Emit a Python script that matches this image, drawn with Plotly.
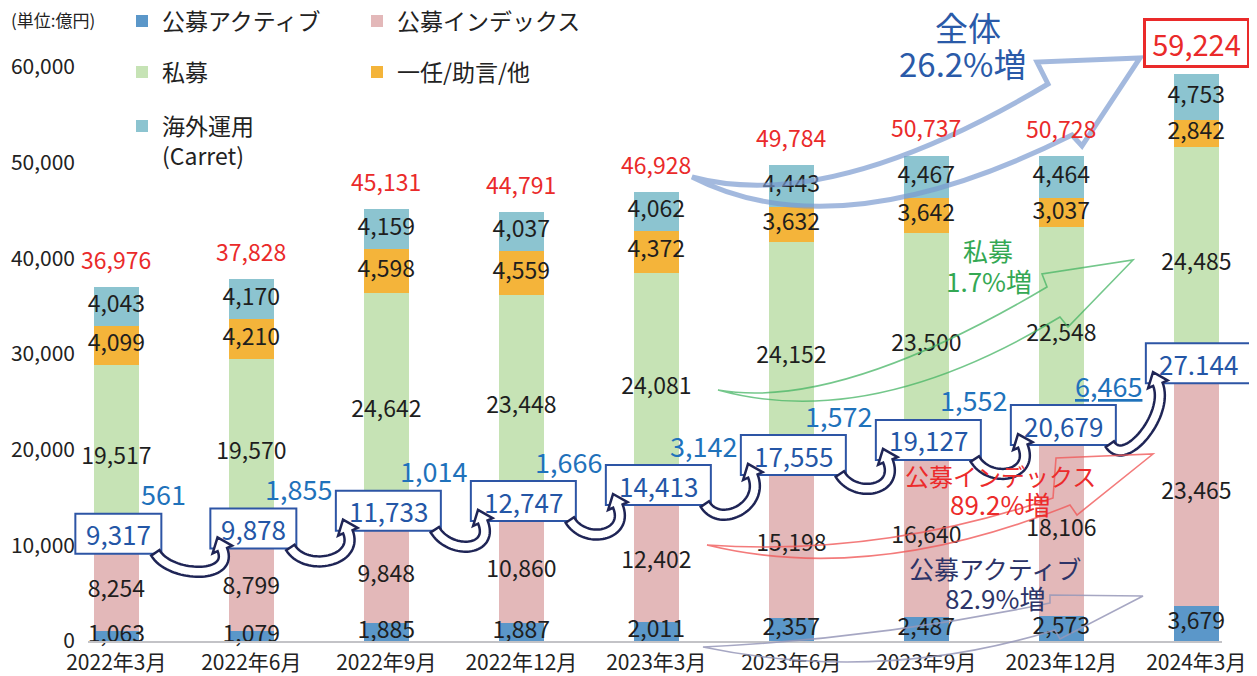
import plotly.graph_objects as go

# ---------------- data ----------------
categories = ["2022年3月", "2022年6月", "2022年9月", "2022年12月", "2023年3月",
              "2023年6月", "2023年9月", "2023年12月", "2024年3月"]
public_active = [1063, 1079, 1885, 1887, 2011, 2357, 2487, 2573, 3679]
public_index = [8254, 8799, 9848, 10860, 12402, 15198, 16640, 18106, 23465]
private_funds = [19517, 19570, 24642, 23448, 24081, 24152, 23500, 22548, 24485]
discretionary = [4099, 4210, 4598, 4559, 4372, 3632, 3642, 3037, 2842]
overseas = [4043, 4170, 4159, 4037, 4062, 4443, 4467, 4464, 4753]
totals = [36976, 37828, 45131, 44791, 46928, 49784, 50737, 50728, 59224]
public_totals = [9317, 9878, 11733, 12747, 14413, 17555, 19127, 20679, 27144]
public_total_labels = ["9,317", "9,878", "11,733", "12,747", "14,413",
                       "17,555", "19,127", "20,679", "27.144"]
increments = [561, 1855, 1014, 1666, 3142, 1572, 1552, 6465]
y_ticks = [0, 10000, 20000, 30000, 40000, 50000, 60000]

series_names = ["公募アクティブ", "公募インデックス", "私募", "一任/助言/他", "海外運用<br>(Carret)"]
series_values = [public_active, public_index, private_funds, discretionary, overseas]
series_colors = ["#5b97c9", "#e3b8b9", "#c6e3b5", "#f4b43a", "#8cc4d0"]
series_legends = ["legend", "legend", "legend2", "legend2", "legend3"]

# ---------------- geometry ----------------
OFF = 8                      # page body margin
W, H = 1257 - OFF, 676 - OFF
ML, MR, MT, MB = 80, 35, 0, 35
PW, PH = W - ML - MR, H - MT - MB
X_RANGE = [-0.21, 8.19]
Y_RANGE = [0, 66150]
FONT = "Noto Sans CJK JP"


# helpers in screen (window) pixels
def xpx(i):
    return OFF + ML + (i - X_RANGE[0]) / (X_RANGE[1] - X_RANGE[0]) * PW


def ypx(v):
    return OFF + MT + PH - (v - Y_RANGE[0]) / (Y_RANGE[1] - Y_RANGE[0]) * PH


def paper(px, py):
    return ((px - OFF - ML) / PW, (MT + PH - (py - OFF)) / PH)


def pstr(pt):
    x, y = paper(*pt)
    return f"{x:.5f},{y:.5f}"


fig = go.Figure()

for name, vals, col, lg in zip(series_names, series_values, series_colors, series_legends):
    fig.add_trace(go.Bar(x=categories, y=vals, name=name, marker_color=col,
                         marker_line_width=0, legend=lg, hoverinfo="skip"))

# segment labels at segment centres
lx, ly, lt = [], [], []
base = [0] * len(categories)
for vals in series_values:
    for i, v in enumerate(vals):
        lx.append(categories[i])
        ly.append(base[i] + v / 2)
        lt.append(f"{v:,}")
        base[i] += v
fig.add_trace(go.Scatter(x=lx, y=ly, text=lt, mode="text", showlegend=False,
                         textfont=dict(size=23, color="#1e1e1e", family=FONT),
                         cliponaxis=False, hoverinfo="skip"))

annotations = []
shapes = []

# totals (red)
for i, t in enumerate(totals):
    last = i == len(totals) - 1
    annotations.append(dict(
        x=categories[i], y=t, xref="x", yref="y", text=f"{t:,}", showarrow=False,
        yanchor="middle", yshift=31 if last else 28,
        font=dict(size=29 if last else 23, color="#ea2a2a", family=FONT),
        bordercolor="#ea2a2a" if last else None, borderwidth=3 if last else 0,
        borderpad=1 if last else 0, bgcolor="white" if last else None,
        width=99 if last else None))


# public totals boxes (frame drawn as shape so the hook heads can sit on top)
BOX_SHIFT_X, BOX_SHIFT_Y, BOX_H = 2, 18, 40


def box_width(v):
    return 105 if v >= 10000 else 86


def box_geom(i):
    cx = xpx(i) + BOX_SHIFT_X
    cy = ypx(public_totals[i]) - BOX_SHIFT_Y
    w = box_width(public_totals[i])
    return cx - w / 2, cy - BOX_H / 2, cx + w / 2, cy + BOX_H / 2


for i, v in enumerate(public_totals):
    x0, y0, x1, y1 = box_geom(i)
    p0, p1 = paper(x0, y1), paper(x1, y0)
    shapes.append(dict(type="rect", xref="paper", yref="paper",
                       x0=p0[0], y0=p0[1], x1=p1[0], y1=p1[1],
                       fillcolor="white", line=dict(color="#2d55a5", width=2),
                       layer="above"))
    annotations.append(dict(
        x=categories[i], y=v, xref="x", yref="y", text=public_total_labels[i],
        showarrow=False, xshift=BOX_SHIFT_X, yshift=BOX_SHIFT_Y, yanchor="middle",
        font=dict(size=26, color="#2456a6", family=FONT)))

# increments
for i, d in enumerate(increments):
    txt = f"{d:,}"
    if i == len(increments) - 1:
        txt = f"<u>{txt}</u>"
    annotations.append(dict(
        x=categories[i], y=public_totals[i], xref="x", yref="y", text=txt,
        showarrow=False, xshift=47, yshift=58, yanchor="middle",
        font=dict(size=27, color="#1f72bb", family=FONT)))


# hook arrows between boxes
def bez(p0, p1, p2, p3, t):
    mt = 1 - t
    x = mt**3 * p0[0] + 3 * mt**2 * t * p1[0] + 3 * mt * t**2 * p2[0] + t**3 * p3[0]
    y = mt**3 * p0[1] + 3 * mt**2 * t * p1[1] + 3 * mt * t**2 * p2[1] + t**3 * p3[1]
    return x, y


def hook_path(S, C1, C2, E, hw=5, head_hw=10.5, head_len=13):
    n = 36
    pts = [bez(S, C1, C2, E, k / n) for k in range(n + 1)]
    left, right = [], []
    for k in range(n + 1):
        a = pts[max(k - 1, 0)]
        b = pts[min(k + 1, n)]
        dx, dy = b[0] - a[0], b[1] - a[1]
        L = (dx * dx + dy * dy) ** 0.5 or 1
        nx, ny = -dy / L, dx / L
        left.append((pts[k][0] + nx * hw, pts[k][1] + ny * hw))
        right.append((pts[k][0] - nx * hw, pts[k][1] - ny * hw))
    dx, dy = E[0] - C2[0], E[1] - C2[1]
    L = (dx * dx + dy * dy) ** 0.5 or 1
    ux, uy = dx / L, dy / L
    nx, ny = -uy, ux
    head = [(E[0] + nx * head_hw, E[1] + ny * head_hw),
            (E[0] + ux * head_len, E[1] + uy * head_len),
            (E[0] - nx * head_hw, E[1] - ny * head_hw)]
    poly = left + head + right[::-1]
    return "M" + " L".join(pstr(p) for p in poly) + " Z"


for i in range(len(public_totals) - 1):
    ax0, ay0, ax1, ay1 = box_geom(i)
    bx0, by0, bx1, by1 = box_geom(i + 1)
    S = (ax1 - 6, ay1 - 1)
    E = (bx0 + 12, by1 + 1)
    C1 = (S[0] + 15, S[1] + 25)
    C2 = (E[0] + 12, E[1] + 30)
    shapes.append(dict(type="path", xref="paper", yref="paper",
                       path=hook_path(S, C1, C2, E), fillcolor="white",
                       line=dict(color="#1f2556", width=2.5), layer="above"))


# trend arrows (decorative block arrows), window pixels
def block_arrow(T, C1, N1, B1, P, B2, N2, C2):
    return (f"M{pstr(T)} Q{pstr(C1)} {pstr(N1)} L{pstr(B1)} L{pstr(P)} "
            f"L{pstr(B2)} L{pstr(N2)} Q{pstr(C2)} {pstr(T)} Z")


trend_arrows = [
    # 全体
    (((692, 177), (830, 214), (1048, 84), (1037, 62), (1140, 58), (1082, 146), (1072, 135), (838, 252)),
     "rgba(120,152,206,0.68)", 5),
    # 私募
    (((718, 390), (838, 411), (1047, 287), (1042, 274), (1133, 260), (1068, 327), (1060, 317), (871, 432)),
     "rgba(70,180,100,0.75)", 1.6),
    # 公募インデックス
    (((707, 545), (880, 557), (1053, 498), (1056, 458), (1153, 454), (1077, 515), (1070, 505), (872, 585)),
     "rgba(240,90,90,0.8)", 1.6),
    # 公募アクティブ
    (((703, 647), (876, 639), (1050, 603), (1050, 595), (1143, 596), (1060, 639), (1055, 630), (881, 684)),
     "rgba(150,152,185,0.85)", 1.6),
]
for pts, col, w in trend_arrows:
    shapes.append(dict(type="path", xref="paper", yref="paper", path=block_arrow(*pts),
                       fillcolor="rgba(0,0,0,0)", line=dict(color=col, width=w), layer="above"))

# trend labels
trend_labels = [
    ("全体", (968, 27), 33, "#2a5aa8"),
    ("26.2%増", (963, 63), 33, "#2a5aa8"),
    ("私募", (988, 250), 25, "#34a853"),
    ("1.7%増", (989, 280), 26, "#34a853"),
    ("公募インデックス", (1000, 475), 24, "#ec2b2b"),
    ("89.2%増", (1000, 503), 26, "#ec2b2b"),
    ("公募アクティブ", (995, 568), 25, "#2d3468"),
    ("82.9%増", (995, 597), 26, "#2d3468"),
]
for txt, (px, py), sz, col in trend_labels:
    x, y = paper(px, py)
    annotations.append(dict(x=x, y=y, xref="paper", yref="paper", text=txt, showarrow=False,
                            xanchor="center", yanchor="middle",
                            font=dict(size=sz, color=col, family=FONT)))

# unit label
ux, uy = paper(9, 19)
annotations.append(dict(x=ux, y=uy, xref="paper", yref="paper", text="(単位:億円)",
                        showarrow=False, xanchor="left", yanchor="middle",
                        font=dict(size=17, color="#222", family=FONT)))


def legend_cfg(px, py, valign="middle"):
    x, y = paper(px, py)
    return dict(x=x, y=y, xanchor="left", yanchor="middle", orientation="h",
                entrywidth=190, entrywidthmode="pixels", bgcolor="rgba(0,0,0,0)",
                font=dict(size=23, color="#222", family=FONT), valign=valign,
                traceorder="normal",
                itemclick=False, itemdoubleclick=False, tracegroupgap=0)


fig.update_layout(
    width=W, height=H,
    margin=dict(l=ML, r=MR, t=MT, b=MB, autoexpand=False),
    paper_bgcolor="white", plot_bgcolor="white",
    barmode="stack", bargap=0.67,
    font=dict(family=FONT, color="#222"),
    xaxis=dict(range=X_RANGE, showgrid=False, showline=True, linecolor="#c3c3c7",
               linewidth=2, ticks="", tickfont=dict(size=21, color="#222"),
               ticklabelstandoff=2,
               zeroline=False, fixedrange=True, automargin=False),
    yaxis=dict(range=Y_RANGE, tickvals=y_ticks, tickformat=",", showgrid=False,
               showline=False, zeroline=False, ticks="", automargin=False,
               ticklabelstandoff=12,
               tickfont=dict(size=21, color="#222"), fixedrange=True),
    legend=legend_cfg(122, 21),
    legend2=legend_cfg(122, 72),
    legend3=legend_cfg(122, 141, "top"),
    annotations=annotations,
    shapes=shapes,
    showlegend=True,
)

fig.write_html("out.html")
